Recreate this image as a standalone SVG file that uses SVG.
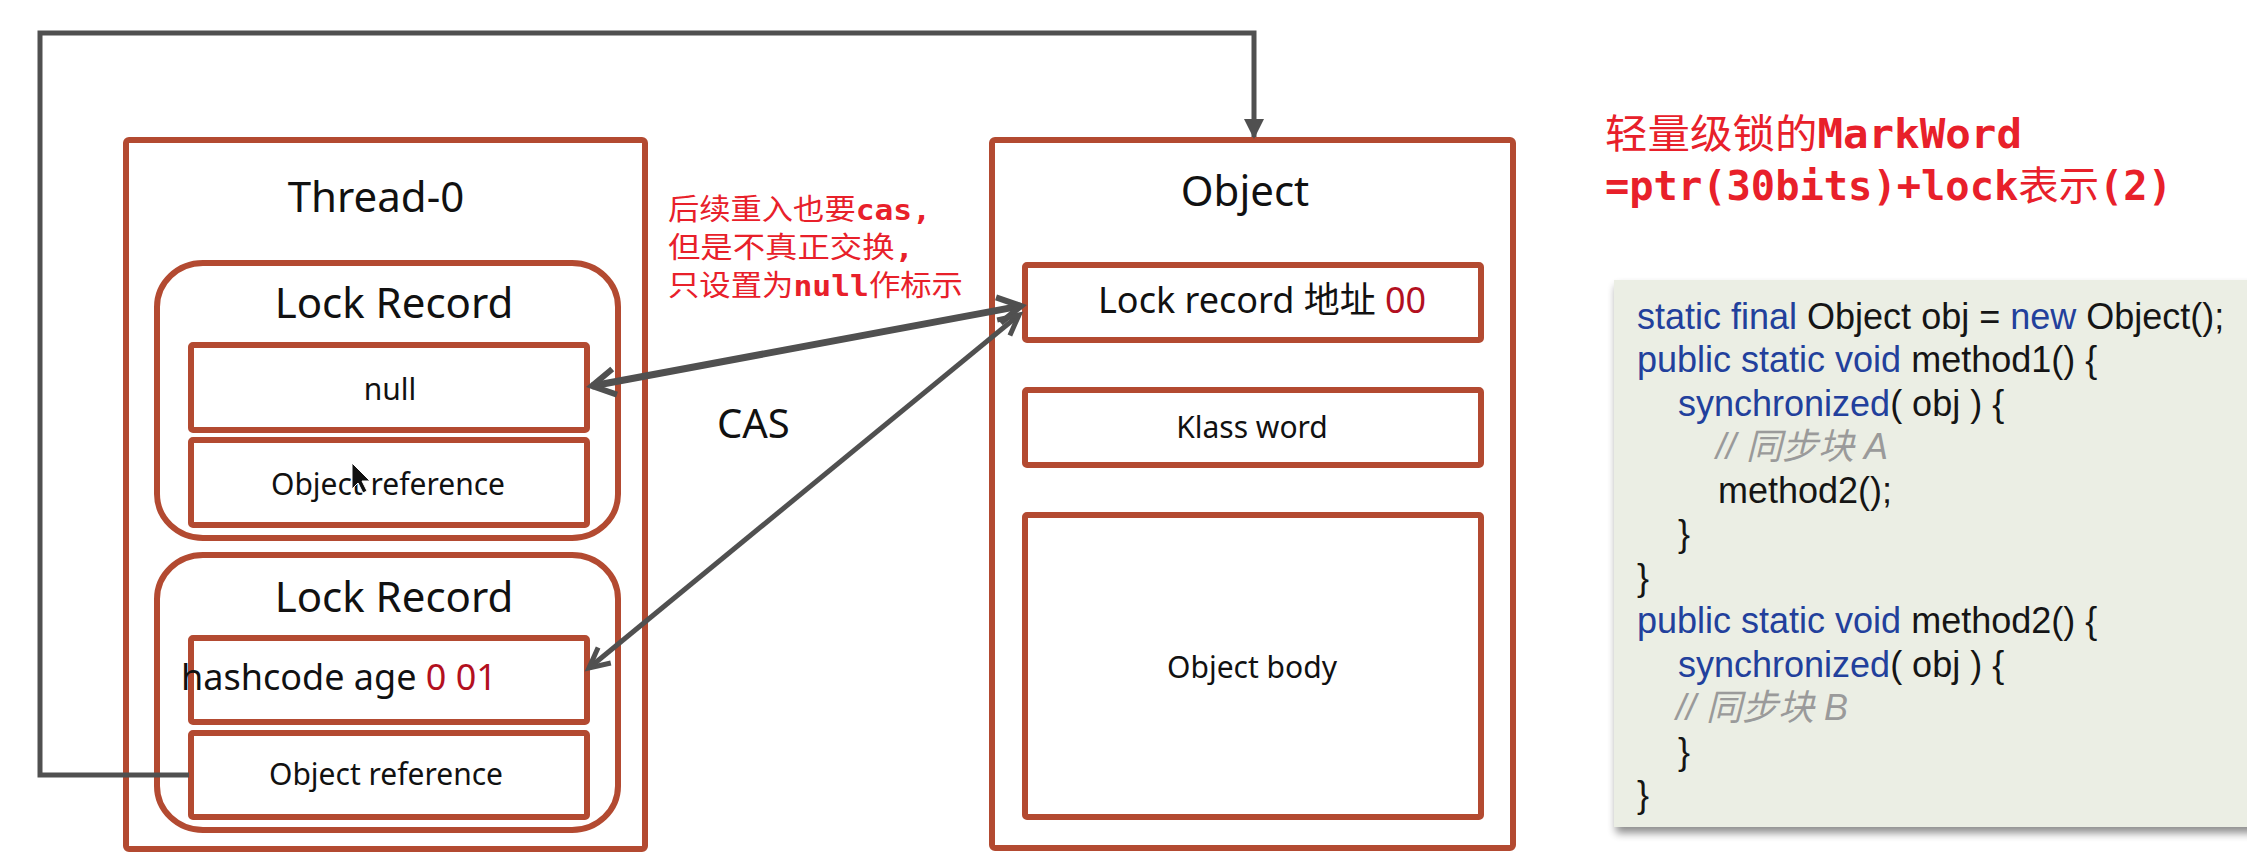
<svg xmlns="http://www.w3.org/2000/svg" width="2247" height="859" viewBox="0 0 2247 859">
<style>
.box{fill:#fff;stroke:#B34A31;stroke-width:6}
.lbl{font-family:"Noto Sans","Noto Sans CJK SC",sans-serif;fill:#111;text-anchor:middle}
.big{font-size:42px}
.mid{font-size:30px}
.dred{fill:#B3101F}
.conn{fill:none;stroke:#505050}
.red{fill:#E8202A}
.cjk{font-family:"Noto Sans CJK SC",sans-serif;font-weight:normal}
.mono{font-family:"DejaVu Sans Mono","Liberation Mono","Noto Sans CJK SC",monospace;font-weight:bold}
.code{font-family:"Liberation Sans","Noto Sans CJK SC",sans-serif;font-size:36px;fill:#151515}
.kw{fill:#22409C}
.cm{fill:#9A9A9A;font-style:italic}
</style>
<defs>
<marker id="openL" markerUnits="userSpaceOnUse" viewBox="0 0 28 30" markerWidth="28" markerHeight="30" refX="25" refY="15" orient="auto-start-reverse" style="overflow:visible">
<path d="M2,2 L25,15 L2,28" fill="none" stroke="#505050" stroke-width="6" stroke-linejoin="miter"/>
</marker>
<marker id="openS" markerUnits="userSpaceOnUse" viewBox="0 0 24 24" markerWidth="24" markerHeight="24" refX="22" refY="12" orient="auto-start-reverse" style="overflow:visible">
<path d="M2,2 L22,12 L2,22" fill="none" stroke="#505050" stroke-width="5" stroke-linejoin="miter"/>
</marker>
<marker id="tri" markerUnits="userSpaceOnUse" viewBox="0 0 20 20" markerWidth="20" markerHeight="20" refX="18" refY="10" orient="auto">
<path d="M0,0 L20,10 L0,20 z" fill="#505050"/>
</marker>
<filter id="shadow" x="-5%" y="-5%" width="115%" height="115%">
<feGaussianBlur in="SourceAlpha" stdDeviation="4"/>
<feOffset dx="2" dy="6" result="b"/>
<feComponentTransfer><feFuncA type="linear" slope="0.45"/></feComponentTransfer>
<feMerge><feMergeNode/><feMergeNode in="SourceGraphic"/></feMerge>
</filter>
</defs>
<rect x="0" y="0" width="2247" height="859" fill="#fff"/>

<g id="thread0">
<rect class="box" x="126" y="140" width="519" height="709" rx="3"/>
<text class="lbl big" x="376" y="212">Thread-0</text>
</g>

<g id="lockRecord1">
<rect class="box" x="157" y="263" width="461" height="275" rx="46" ry="44"/>
<text class="lbl big" x="394" y="318">Lock Record</text>
</g>
<g id="null1">
<rect class="box" x="191" y="345" width="396" height="85" rx="2"/>
<text class="lbl mid" x="390" y="400">null</text>
</g>
<g id="objref1">
<rect class="box" x="191" y="440" width="396" height="85" rx="2"/>
<text class="lbl mid" x="388" y="495">Object reference</text>
<path d="M352,463 L352,489 L358,483 L363,493 L367,491 L362,481 L370,481 Z" fill="#111" stroke="#fff" stroke-width="1"/>
</g>

<g id="lockRecord2">
<rect class="box" x="157" y="555" width="461" height="275" rx="46" ry="44"/>
<text class="lbl big" x="394" y="612">Lock Record</text>
</g>
<g id="hashcode">
<rect class="box" x="191" y="638" width="396" height="84" rx="2"/>
<text class="lbl" x="181" y="690" style="font-size:36px;text-anchor:start">hashcode age <tspan class="dred">0 01</tspan></text>
</g>
<g id="objref2">
<rect class="box" x="191" y="733" width="396" height="84" rx="2"/>
<text class="lbl mid" x="386" y="785">Object reference</text>
</g>

<g id="object">
<rect class="box" x="992" y="140" width="521" height="708" rx="3"/>
<text class="lbl big" x="1245" y="206">Object</text>
</g>
<g id="markword">
<rect class="box" x="1025" y="265" width="456" height="75" rx="2"/>
<text class="lbl" x="1098" y="313" style="font-size:36px;text-anchor:start">Lock record 地址 <tspan class="dred">00</tspan></text>
</g>
<g id="klass">
<rect class="box" x="1025" y="390" width="456" height="75" rx="2"/>
<text class="lbl mid" x="1252" y="438">Klass word</text>
</g>
<g id="body">
<rect class="box" x="1025" y="515" width="456" height="302" rx="2"/>
<text class="lbl mid" x="1252" y="678">Object body</text>
</g>

<g id="connectors">
<polyline class="conn" stroke-width="5" points="189,775 40,775 40,33 1254,33 1254,137" marker-end="url(#tri)"/>
<line class="conn" stroke-width="7" x1="592" y1="386" x2="1021" y2="306" marker-start="url(#openL)" marker-end="url(#openL)"/>
<line class="conn" stroke-width="5" x1="589" y1="668" x2="1019" y2="315" marker-start="url(#openS)" marker-end="url(#openS)"/>
</g>

<g id="casLabel">
<text class="lbl" x="717" y="438" style="font-size:40px;text-anchor:start">CAS</text>
</g>

<g id="note" class="red" style="font-size:29px">
<text x="668" y="220" textLength="263" lengthAdjust="spacingAndGlyphs"><tspan class="cjk">后续重入也要</tspan><tspan class="mono">cas,</tspan></text>
<text x="668" y="258" textLength="246" lengthAdjust="spacingAndGlyphs"><tspan class="cjk">但是不真正交换</tspan><tspan class="mono">,</tspan></text>
<text x="668" y="296" textLength="295" lengthAdjust="spacingAndGlyphs"><tspan class="cjk">只设置为</tspan><tspan class="mono">null</tspan><tspan class="cjk">作标示</tspan></text>
</g>

<g id="title" class="red" style="font-size:40px">
<text x="1605" y="148" textLength="417" lengthAdjust="spacingAndGlyphs"><tspan class="cjk">轻量级锁的</tspan><tspan class="mono">MarkWord</tspan></text>
<text x="1605" y="200" textLength="567" lengthAdjust="spacingAndGlyphs"><tspan class="mono">=ptr(30bits)+lock</tspan><tspan class="cjk">表示</tspan><tspan class="mono">(2)</tspan></text>
</g>

<g id="codePanel">
<rect x="1614" y="280" width="650" height="547" fill="#EBEEE4" filter="url(#shadow)"/>
<text class="code" x="1637" y="329"><tspan class="kw">static final</tspan> Object obj = <tspan class="kw">new</tspan> Object();</text>
<text class="code" x="1637" y="372"><tspan class="kw">public static void</tspan> method1() {</text>
<text class="code" x="1678" y="416"><tspan class="kw">synchronized</tspan>( obj ) {</text>
<text class="code cm" x="1716" y="459">// 同步块 A</text>
<text class="code" x="1718" y="503">method2();</text>
<text class="code" x="1678" y="546">}</text>
<text class="code" x="1637" y="590">}</text>
<text class="code" x="1637" y="633"><tspan class="kw">public static void</tspan> method2() {</text>
<text class="code" x="1678" y="677"><tspan class="kw">synchronized</tspan>( obj ) {</text>
<text class="code cm" x="1676" y="720">// 同步块 B</text>
<text class="code" x="1678" y="764">}</text>
<text class="code" x="1637" y="807">}</text>
</g>
</svg>
